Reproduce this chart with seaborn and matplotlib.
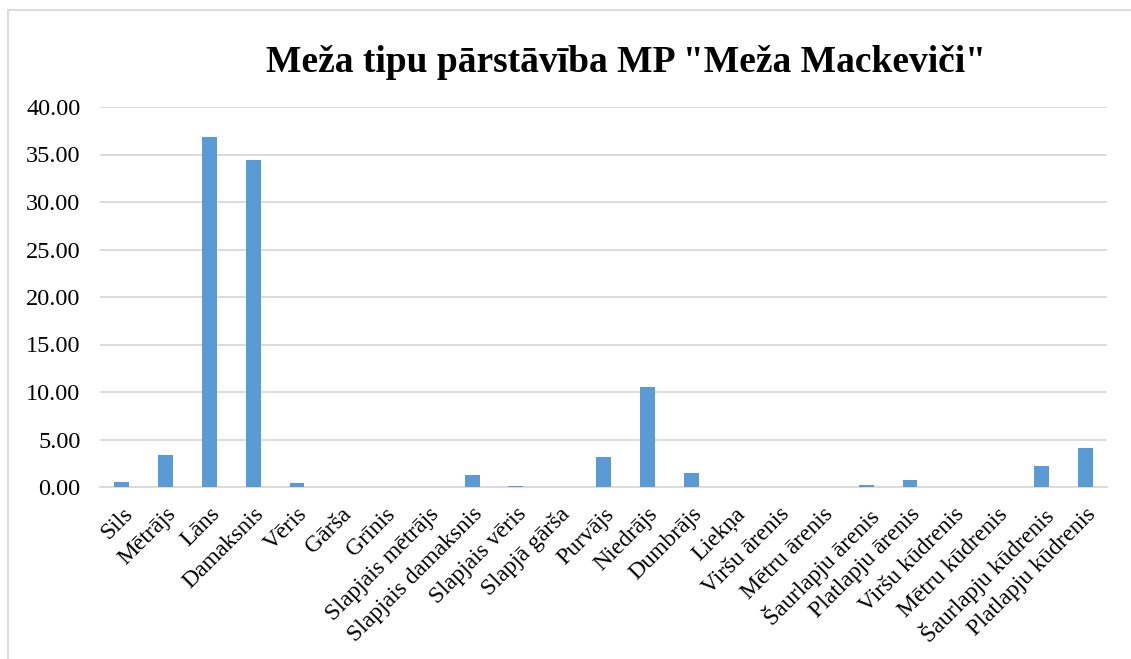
import pandas as pd
import numpy as np
import matplotlib.pyplot as plt
import seaborn as sns
from matplotlib.patches import Rectangle

# Meža tipi un to īpatsvars (%)
meza_tipi = ['Sils', 'Mētrājs', 'Lāns', 'Damaksnis', 'Vēris', 'Gārša', 'Grīnis',
             'Slapjais mētrājs', 'Slapjais damaksnis', 'Slapjais vēris', 'Slapjā gārša',
             'Purvājs', 'Niedrājs', 'Dumbrājs', 'Liekņa', 'Viršu ārenis', 'Mētru ārenis',
             'Šaurlapju ārenis', 'Platlapju ārenis', 'Viršu kūdrenis', 'Mētru kūdrenis',
             'Šaurlapju kūdrenis', 'Platlapju kūdrenis']
ipatsvars = [0.50, 3.40, 36.80, 34.45, 0.42, 0.0, 0.0,
             0.0, 1.23, 0.14, 0.0,
             3.18, 10.50, 1.52, 0.02, 0.0, 0.0,
             0.17, 0.70, 0.0, 0.05,
             2.17, 4.08]
y_ticks = [0, 5, 10, 15, 20, 25, 30, 35, 40]

df = pd.DataFrame({'Tips': meza_tipi, 'Procenti': ipatsvars})

sns.set_style('white')
plt.rcParams['font.family'] = ['Liberation Serif', 'DejaVu Serif']

fig = plt.figure(figsize=(11.31, 6.59), dpi=100)
ax = fig.add_axes([100 / 1131, 1 - 487 / 659, 1007 / 1131, 380 / 659])

sns.barplot(x='Tips', y='Procenti', data=df, color='#5B9BD5', width=0.34,
            saturation=1, linewidth=0, ax=ax, zorder=3)

ax.set_ylim(0, 40)
ax.set_xlim(-0.5, len(meza_tipi) - 0.5)
ax.set_yticks(y_ticks)
ax.set_yticklabels([f'{v:.2f}' for v in y_ticks], fontsize=17.5, color='black')
ax.set_xticks(range(len(meza_tipi)))
ax.set_xticklabels(meza_tipi, rotation=45, ha='right', rotation_mode='anchor',
                   fontsize=17, color='black')
ax.tick_params(axis='y', length=0, pad=14)
ax.tick_params(axis='x', length=0, pad=12)
ax.set_xlabel('')
ax.set_ylabel('')
ax.grid(axis='y', color='#D9D9D9', linewidth=1.3, zorder=0)
for s in ['top', 'right', 'left']:
    ax.spines[s].set_visible(False)
ax.spines['bottom'].set_color('#D9D9D9')
ax.spines['bottom'].set_linewidth(1.3)

fig.text(626 / 1131, 1 - 63 / 659, 'Meža tipu pārstāvība MP "Meža Mackeviči"',
         ha='center', va='center', fontsize=27, fontweight='bold', color='black')

# chart border
fig.patches.append(Rectangle((8 / 1131, -0.01), 1.0, 1 - 10 / 659 + 0.01,
                             transform=fig.transFigure, fill=False,
                             edgecolor='#D9D9D9', linewidth=1.3))

fig.savefig('out.png', dpi=100)
